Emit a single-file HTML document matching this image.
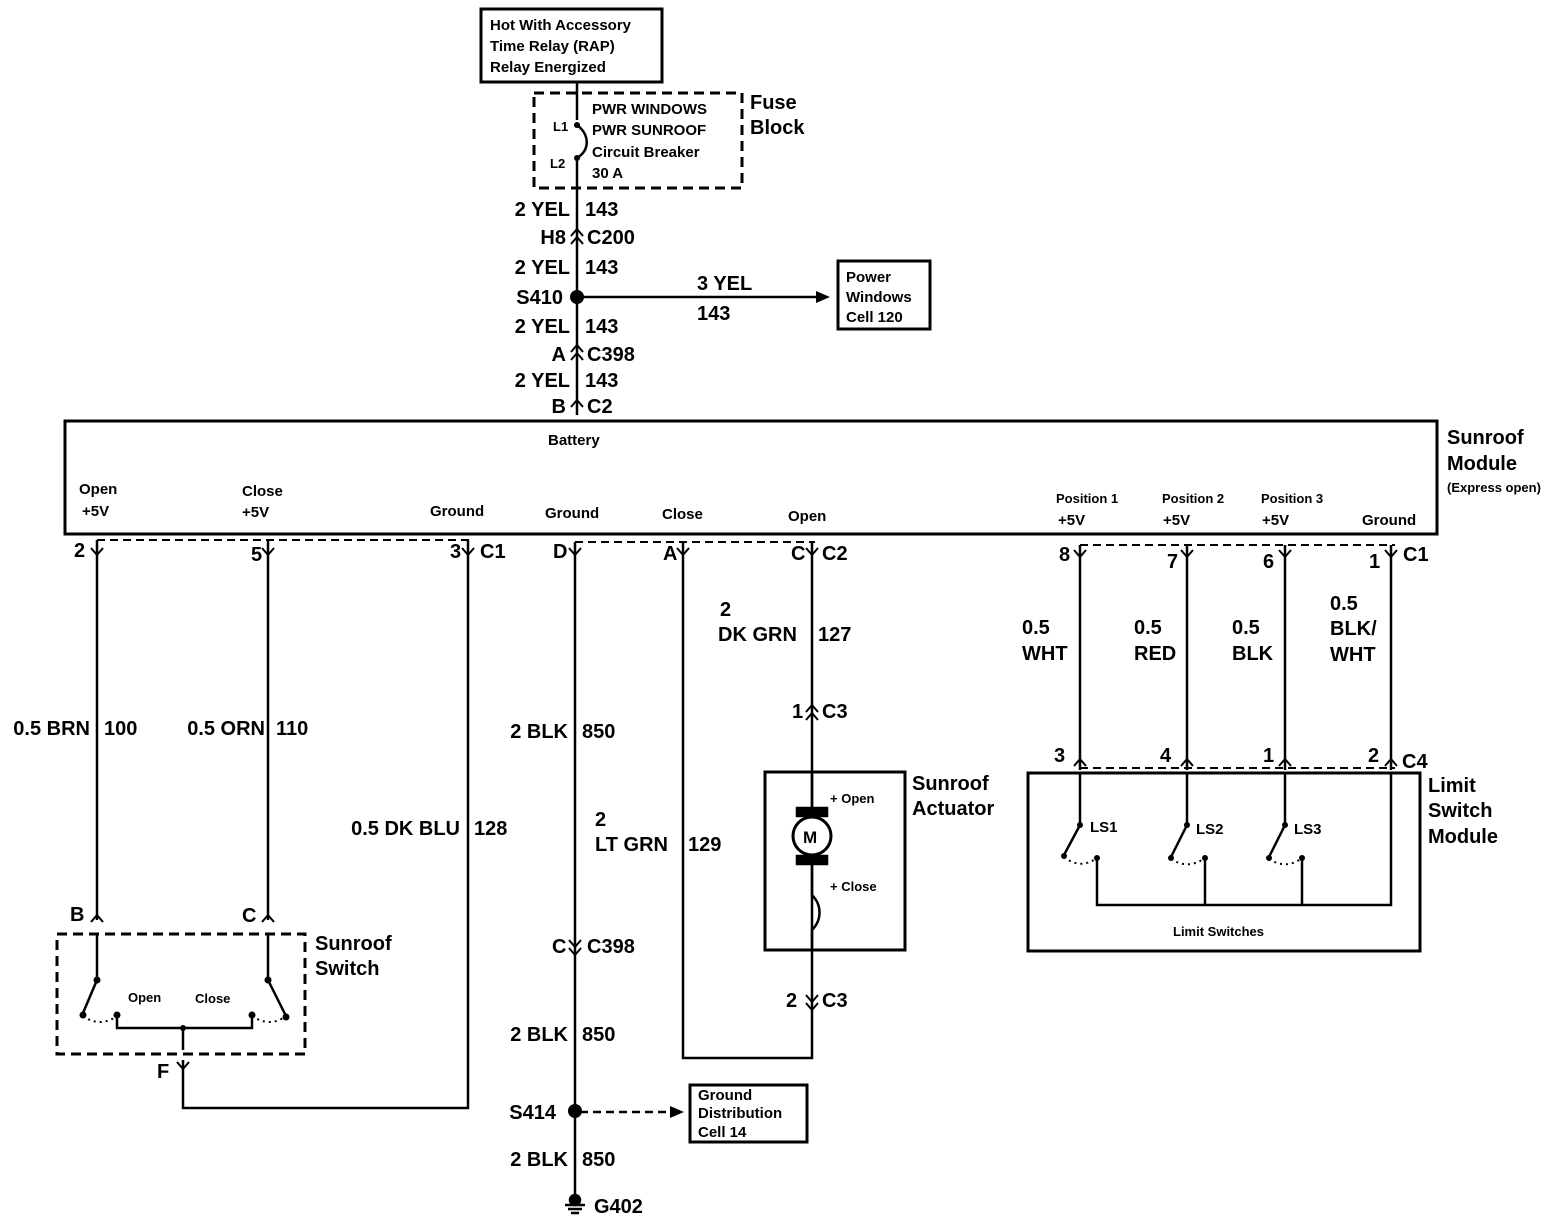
<!DOCTYPE html>
<html><head><style>
html,body{margin:0;padding:0;background:#fff;}
svg{display:block;}
text{font-family:"Liberation Sans",Arial,sans-serif;font-weight:bold;fill:#000;}
.l{font-size:20px;}
.s{font-size:15px;}
.xs{font-size:13px;}
</style></head><body>
<svg width="1562" height="1232" viewBox="0 0 1562 1232" xmlns="http://www.w3.org/2000/svg">
<g fill="none" stroke="#000" stroke-width="2.5">
<rect x="481" y="9" width="181" height="73" stroke-width="3"/>
<rect x="534" y="93" width="208" height="95" stroke-dasharray="10,6" stroke-width="3"/>
<path d="M577 82 V120 M577 160 V415"/>
<path d="M577 125 C590 135 590 150 577 158"/>
<path d="M577 297 H822"/>
<rect x="838" y="261" width="92" height="68" stroke-width="3"/>
<rect x="65" y="421" width="1372" height="113" stroke-width="3"/>
<path d="M97 540 H470 M575 542 H815 M1080 545 H1395 M1080 768 H1395" stroke-dasharray="8,5" stroke-width="2"/>
<path d="M97 540 V920 M268 540 V920 M468 540 V1108 H183 V1060"/>
<path d="M575 542 V1195 M683 542 V1058 H812 V542"/>
<path d="M1080 545 V770 M1187 545 V770 M1285 545 V770 M1391 545 V770"/>
<rect x="1028" y="773" width="392" height="178" stroke-width="3"/>
<rect x="765" y="772" width="140" height="178" stroke-width="3"/>
<rect x="57" y="934" width="248" height="120" stroke-dasharray="10,6" stroke-width="3"/>
<rect x="690" y="1085" width="117" height="57" stroke-width="3"/>
<path d="M580 1112 H670" stroke-dasharray="8,5"/>
</g>
<polygon points="830,297 816,291 816,303" fill="#000"/>
<polygon points="684,1112 670,1106 670,1118" fill="#000"/>
<g fill="none" stroke="#000" stroke-width="2">
<path d="M571 236 L577 229 L583 236 M571 244 L577 237 L583 244"/>
<path d="M571 352 L577 345 L583 352 M571 360 L577 353 L583 360"/>
<path d="M571 407 L577 400 L583 407"/>
<path d="M91 548 L97 555 L103 548 M262 548 L268 555 L274 548 M462 548 L468 555 L474 548 M569 548 L575 555 L581 548 M677 548 L683 555 L689 548 M806 548 L812 555 L818 548"/>
<path d="M1074 550 L1080 557 L1086 550 M1181 550 L1187 557 L1193 550 M1279 550 L1285 557 L1291 550 M1385 550 L1391 557 L1397 550"/>
<path d="M1074 766 L1080 759 L1086 766 M1181 766 L1187 759 L1193 766 M1279 766 L1285 759 L1291 766 M1385 766 L1391 759 L1397 766"/>
<path d="M806 712 L812 705 L818 712 M806 720 L812 713 L818 720"/>
<path d="M806 995 L812 1002 L818 995 M806 1003 L812 1010 L818 1003"/>
<path d="M569 940 L575 947 L581 940 M569 948 L575 955 L581 948"/>
<path d="M91 922 L97 915 L103 922 M262 922 L268 915 L274 922"/>
<path d="M177 1062 L183 1069 L189 1062 M183 1069 V1080"/>
</g>
<g fill="#000">
<circle cx="577" cy="297" r="7"/>
<circle cx="575" cy="1111" r="7"/>
<circle cx="577" cy="125" r="3"/><circle cx="577" cy="158" r="3"/>
</g>
<g stroke="#000" stroke-width="2.5">
<path d="M575 1195 V1205 M565 1205 H585 M568 1209 H582 M571 1213 H579"/>
<circle cx="575" cy="1200" r="5" fill="#000"/>
</g>
<g fill="none" stroke="#000" stroke-width="2.5">
<path d="M97 934 V980 L83 1013 M268 934 V980 L286 1016 M117 1016 V1028 H252 V1016 M183 1028 V1050"/>
<path d="M83 1016 Q100 1028 117 1016 M252 1016 Q270 1028 286 1016" stroke-dasharray="2,4" stroke-width="2"/>
</g>
<g fill="#000"><circle cx="97" cy="980" r="3.5"/><circle cx="83" cy="1015" r="3.5"/><circle cx="117" cy="1015" r="3.5"/><circle cx="268" cy="980" r="3.5"/><circle cx="286" cy="1017" r="3.5"/><circle cx="252" cy="1015" r="3.5"/><circle cx="183" cy="1028" r="3"/></g>
<g fill="none" stroke="#000" stroke-width="2.5">
<path d="M1080 773 V825 L1064 855 M1187 773 V825 L1171 857 M1285 773 V825 L1269 857"/>
<path d="M1097 858 V905 H1391 V773 M1205 858 V905 M1302 858 V905"/>
<path d="M1064 857 Q1080 870 1097 858 M1171 859 Q1188 870 1205 858 M1269 859 Q1286 870 1302 858" stroke-dasharray="2,4" stroke-width="2"/>
</g>
<g fill="#000"><circle cx="1080" cy="825" r="3"/><circle cx="1187" cy="825" r="3"/><circle cx="1285" cy="825" r="3"/><circle cx="1064" cy="856" r="3"/><circle cx="1097" cy="858" r="3"/><circle cx="1171" cy="858" r="3"/><circle cx="1205" cy="858" r="3"/><circle cx="1269" cy="858" r="3"/><circle cx="1302" cy="858" r="3"/></g>
<g fill="none" stroke="#000" stroke-width="2.5">
<path d="M812 772 V810 M812 862 V895 C822 905 822 920 812 930 V950"/>
<rect x="797" y="808" width="30" height="8" fill="#000"/>
<rect x="797" y="856" width="30" height="8" fill="#000"/>
<circle cx="812" cy="836" r="19" fill="#fff" stroke-width="3"/>
</g>
<text x="803" y="843" class="l" style="font-size:17px">M</text>
<text x="490" y="30" class="s">Hot With Accessory</text>
<text x="490" y="51" class="s">Time Relay (RAP)</text>
<text x="490" y="72" class="s">Relay Energized</text>
<text x="592" y="114" class="s">PWR WINDOWS</text>
<text x="592" y="135" class="s">PWR SUNROOF</text>
<text x="592" y="157" class="s">Circuit Breaker</text>
<text x="592" y="178" class="s">30 A</text>
<text x="553" y="131" class="xs">L1</text>
<text x="550" y="168" class="xs">L2</text>
<text x="750" y="109" class="l">Fuse</text>
<text x="750" y="134" class="l">Block</text>
<text x="570" y="216" class="l" text-anchor="end">2 YEL</text><text x="585" y="216" class="l">143</text>
<text x="566" y="244" class="l" text-anchor="end">H8</text><text x="587" y="244" class="l">C200</text>
<text x="570" y="274" class="l" text-anchor="end">2 YEL</text><text x="585" y="274" class="l">143</text>
<text x="563" y="304" class="l" text-anchor="end">S410</text>
<text x="697" y="290" class="l">3 YEL</text><text x="697" y="320" class="l">143</text>
<text x="846" y="282" class="s">Power</text><text x="846" y="302" class="s">Windows</text><text x="846" y="322" class="s">Cell 120</text>
<text x="570" y="333" class="l" text-anchor="end">2 YEL</text><text x="585" y="333" class="l">143</text>
<text x="566" y="361" class="l" text-anchor="end">A</text><text x="587" y="361" class="l">C398</text>
<text x="570" y="387" class="l" text-anchor="end">2 YEL</text><text x="585" y="387" class="l">143</text>
<text x="566" y="413" class="l" text-anchor="end">B</text><text x="587" y="413" class="l">C2</text>
<text x="548" y="445" class="s">Battery</text>
<text x="1447" y="444" class="l">Sunroof</text><text x="1447" y="470" class="l">Module</text>
<text x="1447" y="492" class="xs">(Express open)</text>
<text x="79" y="494" class="s">Open</text><text x="82" y="516" class="s">+5V</text>
<text x="242" y="496" class="s">Close</text><text x="242" y="517" class="s">+5V</text>
<text x="430" y="516" class="s">Ground</text>
<text x="545" y="518" class="s">Ground</text>
<text x="662" y="519" class="s">Close</text>
<text x="788" y="521" class="s">Open</text>
<text x="1056" y="503" class="xs">Position 1</text><text x="1058" y="525" class="s">+5V</text>
<text x="1162" y="503" class="xs">Position 2</text><text x="1163" y="525" class="s">+5V</text>
<text x="1261" y="503" class="xs">Position 3</text><text x="1262" y="525" class="s">+5V</text>
<text x="1362" y="525" class="s">Ground</text>
<text x="74" y="557" class="l">2</text>
<text x="251" y="561" class="l">5</text>
<text x="450" y="558" class="l">3</text><text x="480" y="558" class="l">C1</text>
<text x="553" y="558" class="l">D</text>
<text x="663" y="560" class="l">A</text>
<text x="791" y="560" class="l">C</text><text x="822" y="560" class="l">C2</text>
<text x="1059" y="561" class="l">8</text><text x="1167" y="568" class="l">7</text><text x="1263" y="568" class="l">6</text><text x="1369" y="568" class="l">1</text><text x="1403" y="561" class="l">C1</text>
<text x="90" y="735" class="l" text-anchor="end">0.5 BRN</text><text x="104" y="735" class="l">100</text>
<text x="265" y="735" class="l" text-anchor="end">0.5 ORN</text><text x="276" y="735" class="l">110</text>
<text x="460" y="835" class="l" text-anchor="end">0.5 DK BLU</text><text x="474" y="835" class="l">128</text>
<text x="568" y="738" class="l" text-anchor="end">2 BLK</text><text x="582" y="738" class="l">850</text>
<text x="595" y="826" class="l">2</text><text x="595" y="851" class="l">LT GRN</text><text x="688" y="851" class="l">129</text>
<text x="720" y="616" class="l">2</text><text x="718" y="641" class="l">DK GRN</text><text x="818" y="641" class="l">127</text>
<text x="792" y="718" class="l">1</text><text x="822" y="718" class="l">C3</text>
<text x="1022" y="634" class="l">0.5</text><text x="1022" y="660" class="l">WHT</text>
<text x="1134" y="634" class="l">0.5</text><text x="1134" y="660" class="l">RED</text>
<text x="1232" y="634" class="l">0.5</text><text x="1232" y="660" class="l">BLK</text>
<text x="1330" y="610" class="l">0.5</text><text x="1330" y="635" class="l">BLK/</text><text x="1330" y="661" class="l">WHT</text>
<text x="1054" y="762" class="l">3</text><text x="1160" y="762" class="l">4</text><text x="1263" y="762" class="l">1</text><text x="1368" y="762" class="l">2</text><text x="1402" y="768" class="l">C4</text>
<text x="1428" y="792" class="l">Limit</text><text x="1428" y="817" class="l">Switch</text><text x="1428" y="843" class="l">Module</text>
<text x="1090" y="832" class="s">LS1</text><text x="1196" y="834" class="s">LS2</text><text x="1294" y="834" class="s">LS3</text>
<text x="1173" y="936" class="xs">Limit Switches</text>
<text x="912" y="790" class="l">Sunroof</text><text x="912" y="815" class="l">Actuator</text>
<text x="830" y="803" class="xs">+ Open</text><text x="830" y="891" class="xs">+ Close</text>
<text x="786" y="1007" class="l">2</text><text x="822" y="1007" class="l">C3</text>
<text x="552" y="953" class="l">C</text><text x="587" y="953" class="l">C398</text>
<text x="568" y="1041" class="l" text-anchor="end">2 BLK</text><text x="582" y="1041" class="l">850</text>
<text x="556" y="1119" class="l" text-anchor="end">S414</text>
<text x="698" y="1100" class="s">Ground</text><text x="698" y="1118" class="s">Distribution</text><text x="698" y="1137" class="s">Cell 14</text>
<text x="568" y="1166" class="l" text-anchor="end">2 BLK</text><text x="582" y="1166" class="l">850</text>
<text x="594" y="1213" class="l">G402</text>
<text x="70" y="921" class="l">B</text><text x="242" y="922" class="l">C</text>
<text x="315" y="950" class="l">Sunroof</text><text x="315" y="975" class="l">Switch</text>
<text x="128" y="1002" class="xs">Open</text><text x="195" y="1003" class="xs">Close</text>
<text x="157" y="1078" class="l">F</text>
</svg>
</body></html>
